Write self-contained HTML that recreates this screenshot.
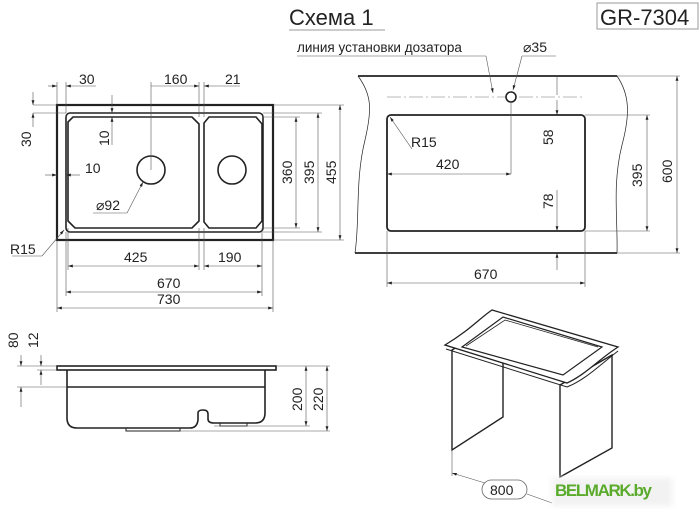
<!DOCTYPE html>
<html><head><meta charset="utf-8"><style>
html,body{margin:0;padding:0;background:#fff;}
svg{display:block;}
text{font-family:"Liberation Sans",sans-serif;fill:#222;}
</style></head><body>
<svg width="700" height="511" viewBox="0 0 700 511" xmlns="http://www.w3.org/2000/svg">
<defs>
<marker id="a" viewBox="0 0 10 6" refX="10" refY="3" markerWidth="8" markerHeight="5" orient="auto-start-reverse"><path d="M0,0L10,3L0,6z" fill="#222"/></marker>
<filter id="bl"><feGaussianBlur stdDeviation="3"/></filter>
</defs>
<g stroke="#222" fill="none">
<!-- Title -->
<text x="289" y="25" font-size="22" stroke="none">Схема 1</text>
<line x1="289" y1="30" x2="385" y2="30" stroke="#999" stroke-width="1"/>
<rect x="597" y="3" width="101" height="26" stroke="#999" stroke-width="1"/>
<text x="600" y="25" font-size="22" stroke="none">GR-7304</text>

<!-- LEFT TOP VIEW -->
<rect x="57" y="105" width="216" height="135" stroke-width="2.2"/>
<rect x="66" y="113" width="197" height="119" rx="4" stroke-width="1.6"/>
<path d="M73,117 H192 L199,124 V221 L192,228 H75 L68,221 V122 Z" stroke-width="1.6"/>
<path d="M209,117 H256 L262,124 V221 L256,228 H209 L204,222 V123 Z" stroke-width="1.6"/>
<circle cx="151" cy="170" r="14" stroke-width="1.6"/>
<circle cx="232" cy="170" r="14" stroke-width="1.6"/>
<g stroke-width="0.6" stroke="#555">
<line x1="57" y1="105" x2="57" y2="82"/><line x1="66" y1="113" x2="66" y2="82"/>
<line x1="151" y1="170" x2="151" y2="82"/><line x1="199" y1="117" x2="199" y2="82"/><line x1="204" y1="117" x2="204" y2="82"/>
<line x1="48" y1="86" x2="57" y2="86" marker-end="url(#a)"/><line x1="96" y1="86" x2="66" y2="86" marker-end="url(#a)"/>
<line x1="151" y1="86" x2="199" y2="86" marker-end="url(#a)"/><line x1="240" y1="86" x2="204" y2="86" marker-end="url(#a)"/>
<line x1="33" y1="105" x2="57" y2="105"/><line x1="33" y1="113" x2="66" y2="113"/>
<line x1="33" y1="92" x2="33" y2="105" marker-end="url(#a)"/><line x1="33" y1="127" x2="33" y2="113" marker-end="url(#a)"/>
<line x1="112" y1="95" x2="112" y2="113" marker-end="url(#a)"/><line x1="112" y1="145" x2="112" y2="117" marker-end="url(#a)"/>
<line x1="45" y1="175" x2="57" y2="175" marker-end="url(#a)"/><line x1="80" y1="175" x2="66" y2="175" marker-end="url(#a)"/>
<line x1="93" y1="213" x2="127" y2="213"/><line x1="127" y1="213" x2="143" y2="182" marker-end="url(#a)"/>
<line x1="12" y1="256" x2="42" y2="256"/><line x1="42" y1="256" x2="64" y2="230" marker-end="url(#a)"/>
<line x1="262" y1="117" x2="300" y2="117"/><line x1="262" y1="228" x2="300" y2="228"/>
<line x1="263" y1="113" x2="322" y2="113"/><line x1="263" y1="232" x2="322" y2="232"/>
<line x1="273" y1="105" x2="344" y2="105"/><line x1="273" y1="240" x2="344" y2="240"/>
<line x1="296" y1="117" x2="296" y2="228" marker-start="url(#a)" marker-end="url(#a)"/>
<line x1="318" y1="113" x2="318" y2="232" marker-start="url(#a)" marker-end="url(#a)"/>
<line x1="340" y1="105" x2="340" y2="240" marker-start="url(#a)" marker-end="url(#a)"/>
<line x1="68" y1="228" x2="68" y2="270"/><line x1="199" y1="228" x2="199" y2="270"/><line x1="204" y1="228" x2="204" y2="270"/><line x1="262" y1="228" x2="262" y2="296"/>
<line x1="66" y1="232" x2="66" y2="296"/><line x1="57" y1="240" x2="57" y2="312"/><line x1="273" y1="240" x2="273" y2="312"/>
<line x1="68" y1="266" x2="199" y2="266" marker-start="url(#a)" marker-end="url(#a)"/>
<line x1="204" y1="266" x2="262" y2="266" marker-start="url(#a)" marker-end="url(#a)"/>
<line x1="66" y1="292" x2="262" y2="292" marker-start="url(#a)" marker-end="url(#a)"/>
<line x1="57" y1="308" x2="273" y2="308" marker-start="url(#a)" marker-end="url(#a)"/>
</g>
<g stroke="none" font-size="14">
<text x="79" y="84">30</text><text x="164" y="84">160</text><text x="225" y="84">21</text>
<text x="85" y="173">10</text><text x="96" y="210">⌀92</text><text x="10" y="254">R15</text>
<text x="124" y="262">425</text><text x="218" y="262">190</text><text x="157" y="288">670</text><text x="157" y="304">730</text>
<text transform="translate(31,147) rotate(-90)">30</text>
<text transform="translate(109,146) rotate(-90)">10</text>
<text transform="translate(292,184) rotate(-90)">360</text>
<text transform="translate(314,184) rotate(-90)">395</text>
<text transform="translate(336,184) rotate(-90)">455</text>
</g>

<!-- RIGHT TOP VIEW -->
<path d="M358,76 H617" stroke-width="1.8"/><path d="M355,253 H617" stroke-width="1.8"/>
<path d="M358,76 C372,95 372,110 365,140 C355,180 360,220 355,253" stroke-width="0.7"/>
<path d="M617,76 C630,95 630,115 622,145 C612,185 618,220 617,253" stroke-width="0.7"/>
<rect x="387" y="115" width="198" height="116" rx="4" stroke-width="1.8"/>
<line x1="387" y1="97" x2="585" y2="97" stroke-width="0.6" stroke="#777" stroke-dasharray="14,3,2,3"/>
<circle cx="511" cy="97" r="5" stroke-width="1.6" fill="#fff"/>
<g stroke-width="0.6" stroke="#555">
<line x1="486" y1="56" x2="493" y2="93" marker-end="url(#a)"/><line x1="297" y1="56" x2="486" y2="56"/>
<line x1="522" y1="56" x2="556" y2="56"/><line x1="522" y1="56" x2="513" y2="90" marker-end="url(#a)"/>
<line x1="511" y1="102" x2="511" y2="174"/>
<line x1="387" y1="174" x2="511" y2="174" marker-start="url(#a)" marker-end="url(#a)"/>
<line x1="412" y1="149" x2="390" y2="117" marker-end="url(#a)"/>
<line x1="557" y1="76" x2="557" y2="95"/><line x1="557" y1="100" x2="557" y2="115" marker-end="url(#a)"/>
<line x1="557" y1="190" x2="557" y2="231" marker-end="url(#a)"/><line x1="557" y1="270" x2="557" y2="253" marker-end="url(#a)"/>
<line x1="585" y1="115" x2="650" y2="115"/><line x1="585" y1="231" x2="650" y2="231"/>
<line x1="617" y1="76" x2="680" y2="76"/><line x1="617" y1="253" x2="680" y2="253"/>
<line x1="647" y1="115" x2="647" y2="231" marker-start="url(#a)" marker-end="url(#a)"/>
<line x1="677" y1="76" x2="677" y2="253" marker-start="url(#a)" marker-end="url(#a)"/>
<line x1="387" y1="231" x2="387" y2="287"/><line x1="585" y1="231" x2="585" y2="287"/>
<line x1="387" y1="283" x2="585" y2="283" marker-start="url(#a)" marker-end="url(#a)"/>
</g>
<g stroke="none" font-size="14">
<text x="297" y="52" font-size="13.5">линия установки дозатора</text>
<text x="523" y="52">⌀35</text>
<text x="411" y="147">R15</text><text x="436" y="169">420</text><text x="474" y="279">670</text>
<text transform="translate(553,145) rotate(-90)">58</text>
<text transform="translate(553,209) rotate(-90)">78</text>
<text transform="translate(642,187) rotate(-90)">395</text>
<text transform="translate(672,183) rotate(-90)">600</text>
</g>

<!-- SIDE VIEW -->
<rect x="57" y="366" width="219" height="4" stroke-width="1.6"/>
<path d="M67,370 V418 Q67,428 77,428 H190 Q197,428 198,420 V413 Q198,410 203,410 Q208,410 208,414 V419 Q208,423 214,423 H255 Q265,423 265,413 V370" stroke-width="1.6"/>
<line x1="67" y1="387" x2="265" y2="387" stroke-width="1.4"/>
<rect x="126" y="428" width="54" height="3" stroke-width="1"/>
<rect x="220" y="423" width="27" height="3" stroke-width="1"/>
<g stroke-width="0.6" stroke="#555">
<line x1="17" y1="366" x2="57" y2="366"/><line x1="37" y1="370" x2="57" y2="370"/><line x1="17" y1="387" x2="67" y2="387"/>
<line x1="21" y1="355" x2="21" y2="366" marker-end="url(#a)"/><line x1="21" y1="407" x2="21" y2="387" marker-end="url(#a)"/>
<line x1="41" y1="355" x2="41" y2="366" marker-end="url(#a)"/><line x1="41" y1="385" x2="41" y2="370" marker-end="url(#a)"/>
<line x1="276" y1="366" x2="330" y2="366"/><line x1="214" y1="426" x2="310" y2="426"/><line x1="180" y1="431" x2="330" y2="431"/>
<line x1="306" y1="366" x2="306" y2="426" marker-start="url(#a)" marker-end="url(#a)"/>
<line x1="327" y1="366" x2="327" y2="431" marker-start="url(#a)" marker-end="url(#a)"/>
</g>
<g stroke="none" font-size="14">
<text transform="translate(18,348) rotate(-90)">80</text>
<text transform="translate(38,348) rotate(-90)">12</text>
<text transform="translate(302,411) rotate(-90)">200</text>
<text transform="translate(323,411) rotate(-90)">220</text>
</g>

<!-- 3D VIEW -->
<path d="M452,350 L503,320 L503,417 L452,450 Z" stroke-width="1.4" fill="#fff"/>
<path d="M560,385 L612,355 L612,448 L560,477 Z" stroke-width="1.4" fill="#fff"/>
<path d="M445,345 C470,330 480,318 492,310 L618,347 C598,360 585,375 567,383 Z" stroke-width="1.3" fill="#fff"/>
<path d="M446,349 L567,387 C585,380 600,365 618,351" stroke-width="1"/>
<path d="M462,347 L503,317 L602,347 L563,375 Z" stroke-width="1.2"/>
<path d="M466,346 L505,320 L598,347" stroke-width="0.8"/>
<g stroke-width="0.6" stroke="#555">
<line x1="452" y1="450" x2="452" y2="476"/>
<line x1="452" y1="473" x2="485" y2="483" marker-start="url(#a)"/>
<line x1="527" y1="494" x2="552" y2="503"/>
</g>
<rect x="482" y="480" width="45" height="19" rx="9.5" stroke-width="0.8" stroke="#666" fill="#fff"/>
<text x="490" y="495" font-size="14" stroke="none">800</text>
<rect x="552" y="478" width="120" height="28" fill="#f2f2f2" stroke="none" filter="url(#bl)"/>
<text x="555" y="496" font-size="17" font-weight="bold" stroke="none" style="fill:#5aab2c" textLength="97">BELMARK.by</text>
</g>
</svg>
</body></html>
